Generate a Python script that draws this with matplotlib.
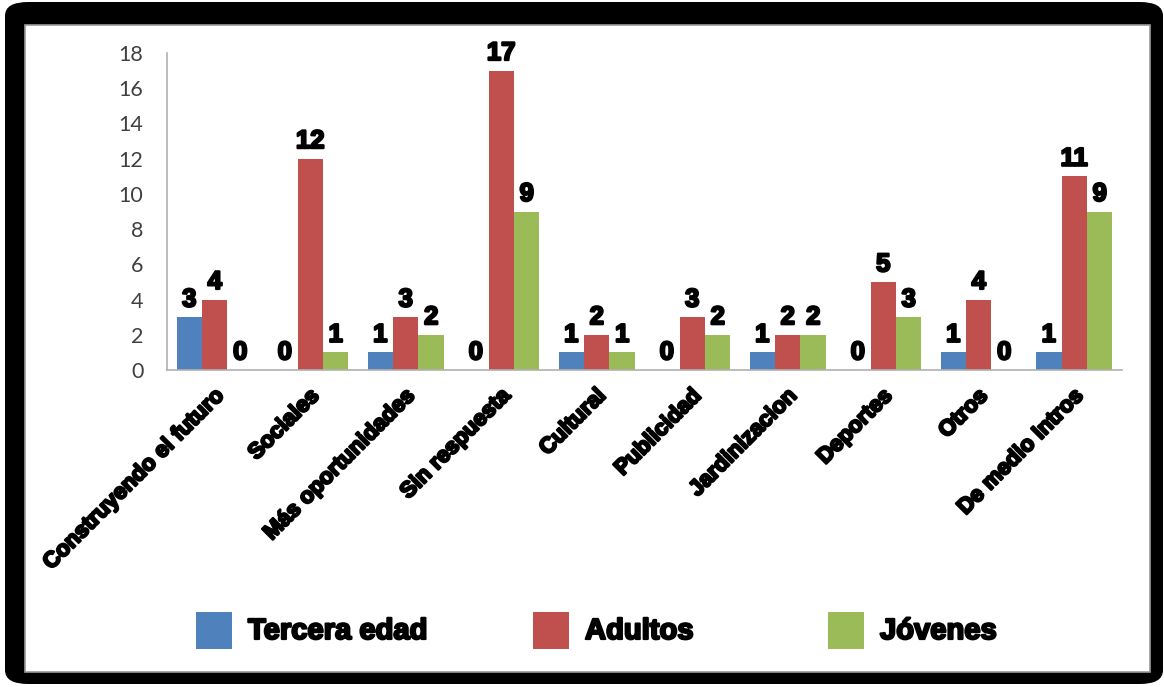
import numpy as np
import matplotlib
matplotlib.use('Agg')
import matplotlib.pyplot as plt
import matplotlib.patheffects as pe
from matplotlib.patches import FancyBboxPatch, Rectangle
from matplotlib.transforms import ScaledTranslation

categorias = ['Construyendo el futuro', 'Sociales', 'Más oportunidades', 'Sin respuesta',
              'Cultural', 'Publicidad', 'Jardinizacion', 'Deportes', 'Otros', 'De medio Intros']
series = ['Tercera edad', 'Adultos', 'Jóvenes']
tercera_edad = [3, 0, 1, 0, 1, 0, 1, 0, 1, 1]
adultos = [4, 12, 3, 17, 2, 3, 2, 5, 4, 11]
jovenes = [0, 1, 2, 9, 1, 2, 2, 3, 0, 9]
colores = ['#4F81BD', '#C0504D', '#9BBB59']

W, H = 1164, 687
fig = plt.figure(figsize=(W / 100, H / 100), dpi=100)

# marco negro redondeado con fondo blanco (detrás de los ejes)
fig.patches.append(FancyBboxPatch((5 / W, 3 / H), 1158 / W, 682 / H,
                                  boxstyle='round,pad=0,rounding_size=0.02',
                                  transform=fig.transFigure, fc='black', ec='none',
                                  zorder=-10))
fig.patches.append(Rectangle((25 / W, 1 - 672 / H), 1125 / W, 647 / H,
                             transform=fig.transFigure, fc='white', ec='#9a9a9a', lw=1.2,
                             zorder=-9))

ax = fig.add_axes([167 / W, 1 - 370 / H, (1122 - 167) / W, (370 - 53) / H])
ax.set_facecolor('none')

fuerte = dict(family='Liberation Sans', weight='bold')
trazo = [pe.withStroke(linewidth=1.6, foreground='black')]

x = np.arange(len(categorias))
bw = 0.8 / 3
for i, (vals, col) in enumerate(zip([tercera_edad, adultos, jovenes], colores)):
    barras = ax.bar(x + (i - 1) * bw, vals, bw, color=col, edgecolor='none', zorder=2)
    etiquetas = ax.bar_label(barras, labels=[str(v) for v in vals], padding=4,
                             fontsize=18.5, color='black', **fuerte)
    for t in etiquetas:
        t.set_path_effects(trazo)

ax.set_xlim(-0.5, len(categorias) - 0.5)
ax.set_ylim(0, 18)
ax.set_yticks(range(0, 19, 2))
ax.tick_params(axis='y', length=0, pad=17, labelsize=15.5, labelcolor='#404040')
for lab in ax.get_yticklabels():
    lab.set_family('Lato')

ax.set_xticks(x)
ax.set_xticklabels(categorias, rotation=45, ha='right', va='center',
                   rotation_mode='anchor', fontsize=16, **fuerte)
ax.tick_params(axis='x', length=0, pad=0)
desplaza = ScaledTranslation(6 / 100, -23 / 100, fig.dpi_scale_trans)
for lab in ax.get_xticklabels():
    lab.set_transform(lab.get_transform() + desplaza)
    lab.set_path_effects(trazo)

for lado in ['top', 'right']:
    ax.spines[lado].set_visible(False)
for lado in ['left', 'bottom']:
    ax.spines[lado].set_color('#b0b0b0')
    ax.spines[lado].set_linewidth(1.2)

# leyenda
pos_leyenda = [196, 533, 828]
for xp, nombre, col in zip(pos_leyenda, series, colores):
    fig.patches.append(Rectangle((xp / W, 1 - 649 / H), 36 / W, 37 / H,
                                 transform=fig.transFigure, fc=col, ec='none'))
    t = fig.text((xp + 52) / W, 1 - 631 / H, nombre, fontsize=21, va='center',
                 ha='left', color='black', **fuerte)
    t.set_path_effects(trazo)

fig.savefig('out.png', dpi=100)
